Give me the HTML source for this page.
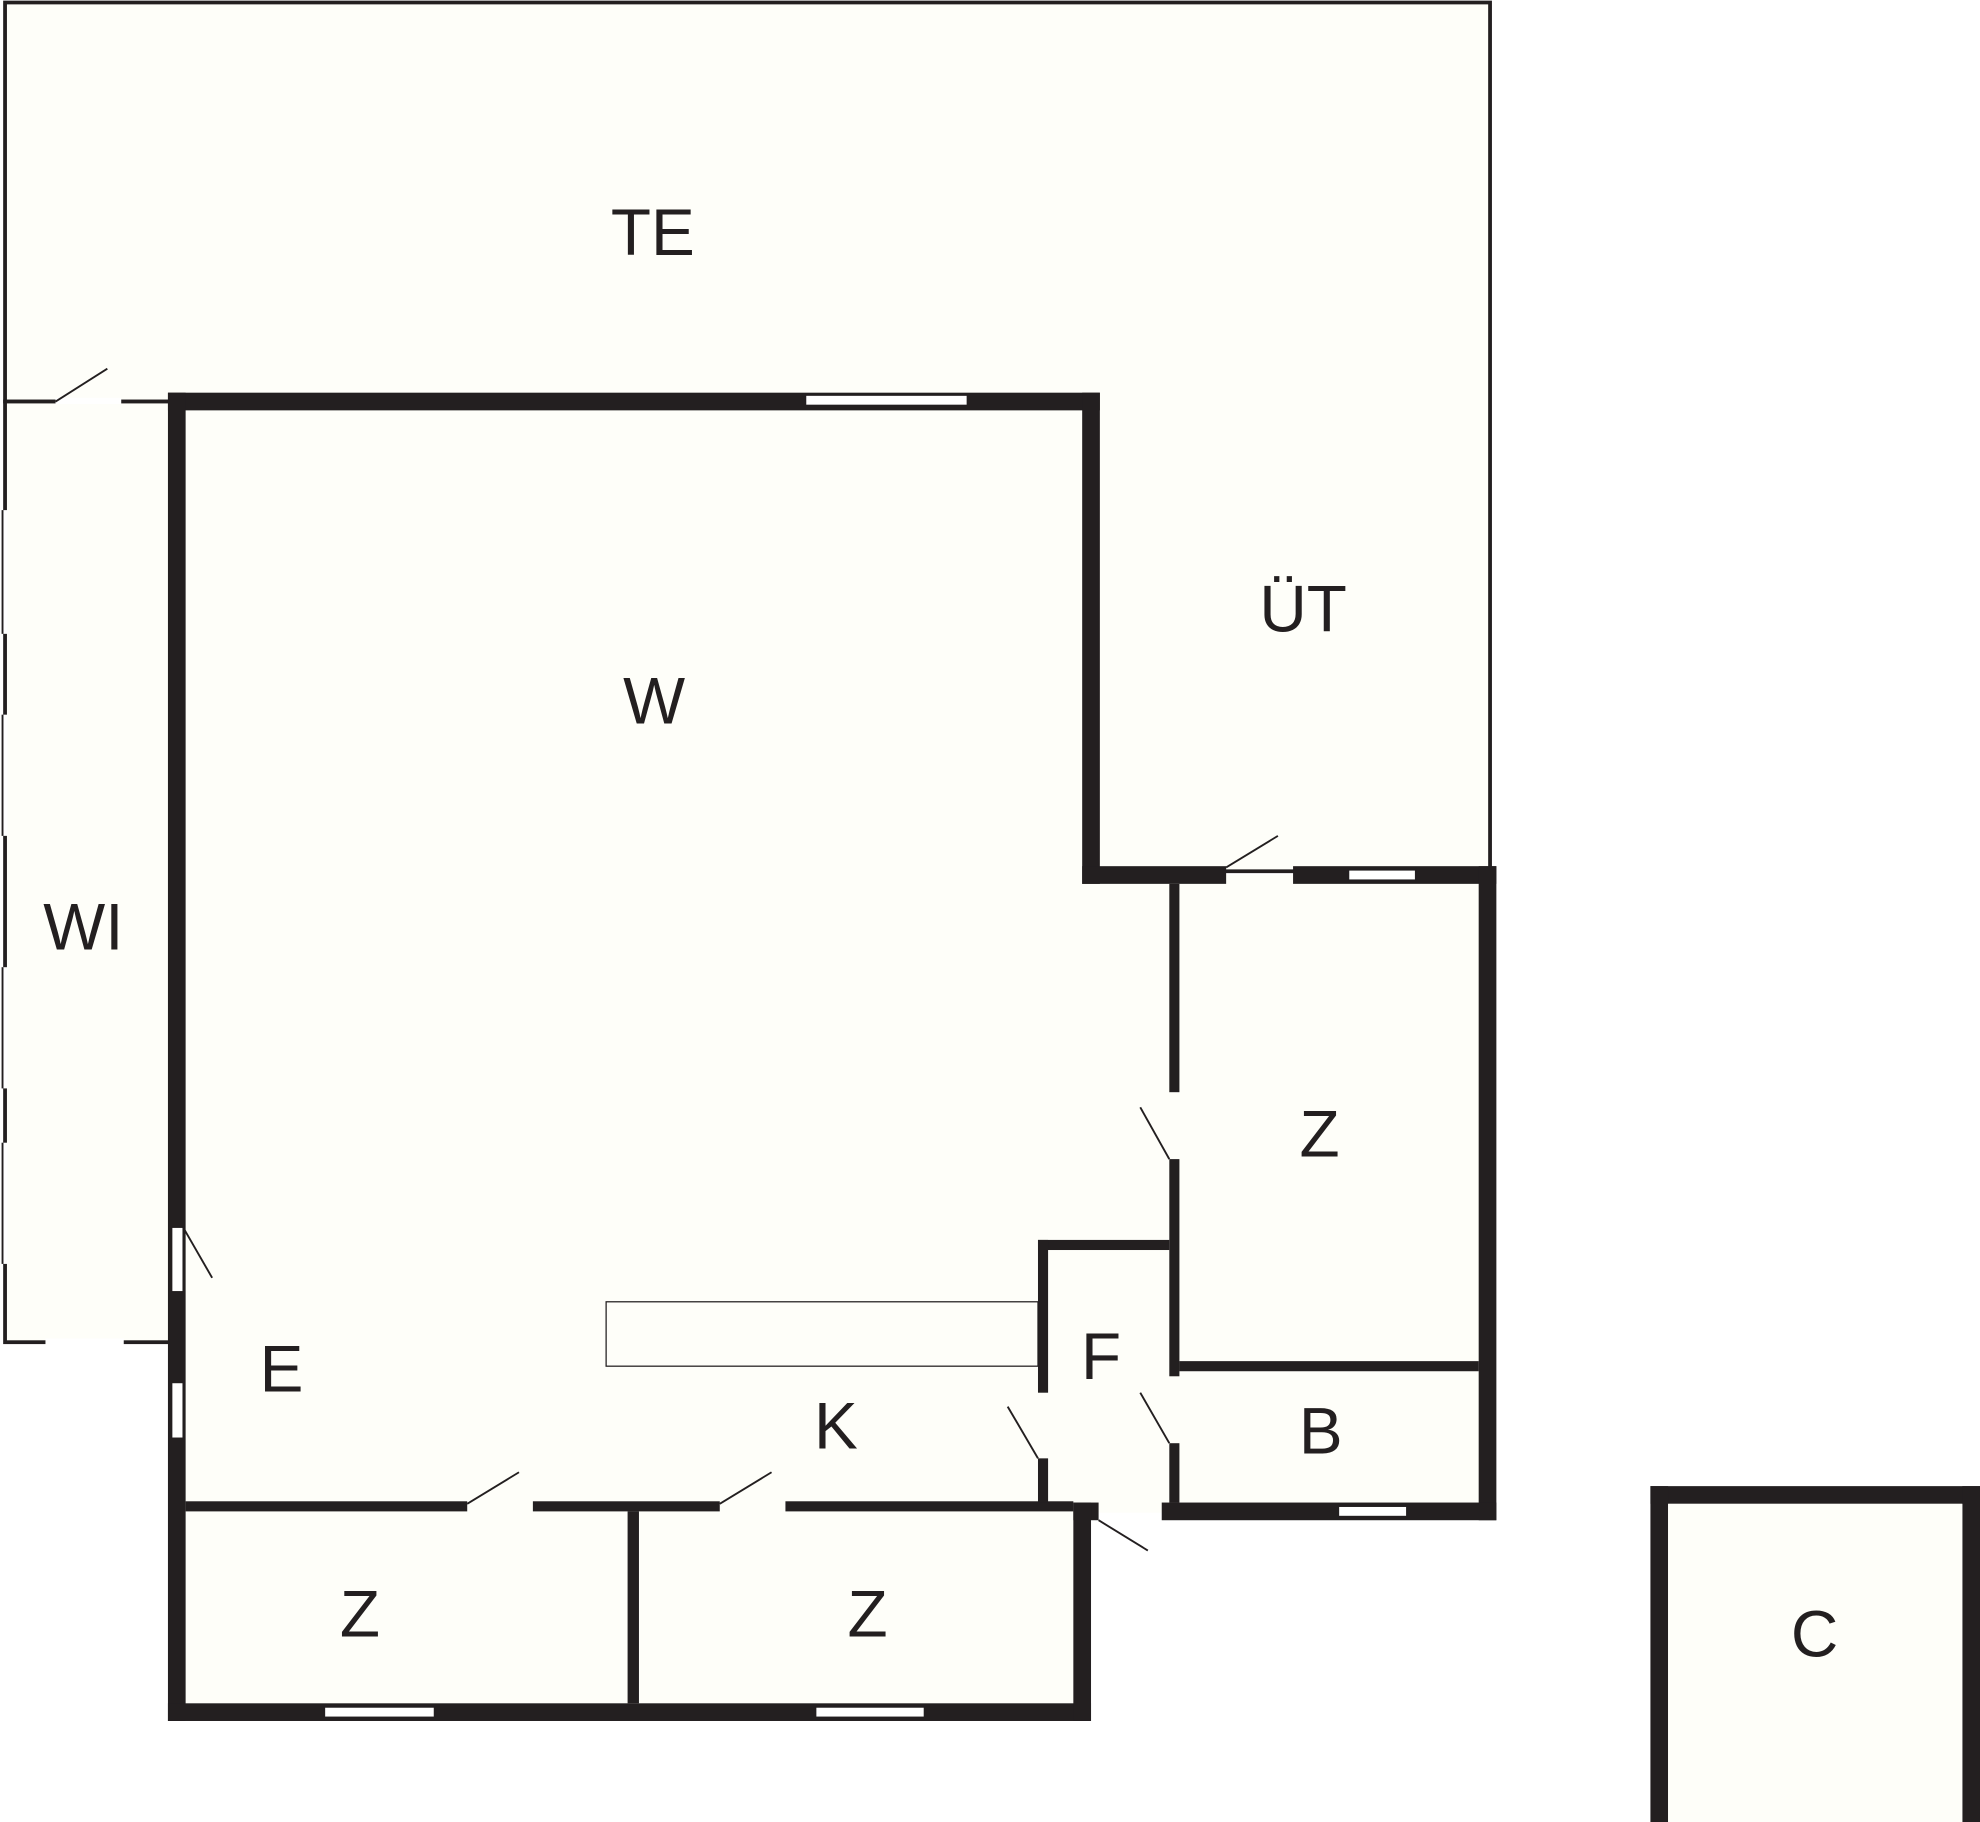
<!DOCTYPE html>
<html><head><style>
html,body{margin:0;padding:0;background:#fff;}
svg{display:block;}
text{font-family:"Liberation Sans",sans-serif;font-size:52px;fill:#231f20;text-anchor:middle;}
</style></head><body>
<svg width="1980" height="1822" viewBox="0 0 1568 1443" preserveAspectRatio="none" xmlns="http://www.w3.org/2000/svg">
<rect width="1568" height="1443" fill="#fff"/>
<g fill="#fefef9" stroke="#231f20" stroke-width="3">
<polygon points="4,2 1180,2 1180,690 864,690 864,318 4,318"/>
<rect x="4" y="318" width="132" height="745"/>
</g>
<rect x="140" y="318" width="724" height="1040" fill="#fefef9"/>
<rect x="864" y="693" width="314" height="505" fill="#fefef9"/>
<g fill="#231f20">
<!-- outer walls -->
<rect x="133" y="311" width="738" height="14"/>
<rect x="857" y="311" width="14" height="389"/>
<rect x="857" y="686" width="114" height="14"/>
<rect x="1024" y="686" width="161" height="14"/>
<rect x="1171" y="686" width="14" height="518"/>
<rect x="920" y="1190" width="265" height="14"/>
<rect x="850" y="1190" width="20" height="14"/>
<rect x="133" y="311" width="14" height="1052"/>
<rect x="133" y="1349" width="731" height="14"/>
<rect x="850" y="1190" width="14" height="173"/>
<!-- interior -->
<rect x="147" y="1189" width="223" height="8"/>
<rect x="422" y="1189" width="148" height="8"/>
<rect x="622" y="1189" width="228" height="8"/>
<rect x="497" y="1197" width="9" height="152"/>
<rect x="926" y="700" width="8" height="165"/>
<rect x="926" y="918" width="8" height="172"/>
<rect x="926" y="1143" width="8" height="47"/>
<rect x="822" y="982" width="104" height="8"/>
<rect x="822" y="982" width="8" height="121"/>
<rect x="822" y="1155" width="8" height="35"/>
<rect x="934" y="1078" width="237" height="8"/>
<!-- C -->
<rect x="1307" y="1177" width="261" height="14"/>
<rect x="1307" y="1177" width="14" height="270"/>
<rect x="1554" y="1177" width="14" height="270"/>
</g>
<rect x="1321" y="1191" width="233" height="260" fill="#fefef9"/>
<!-- windows -->
<g fill="#fff" stroke="#231f20" stroke-width="1">
<rect x="638" y="313" width="128" height="8"/>
<rect x="1068" y="689" width="53" height="8"/>
<rect x="1060" y="1193" width="54" height="8"/>
<rect x="257" y="1352" width="87" height="8"/>
<rect x="646" y="1352" width="86" height="8"/>
<rect x="136" y="972" width="9" height="51"/>
<rect x="136" y="1095" width="9" height="44"/>
<rect x="480" y="1031" width="342" height="51" fill="#fefef9"/>
</g>
<!-- WI window gaps -->
<g fill="#fff"><rect x="2" y="404" width="4" height="98"/><rect x="2" y="566" width="4" height="96"/><rect x="2" y="766" width="4" height="96"/><rect x="2" y="905" width="4" height="96"/><rect x="36" y="1060" width="62" height="5"/><rect x="44" y="315" width="52" height="5"/></g>
<g stroke="#231f20" stroke-width="1.5">
<line x1="2" y1="404" x2="2" y2="502"/><line x1="2" y1="566" x2="2" y2="662"/><line x1="2" y1="766" x2="2" y2="862"/><line x1="2" y1="905" x2="2" y2="1001"/>
<line x1="44" y1="318" x2="85" y2="292"/>
<line x1="971" y1="687" x2="1012" y2="662"/>
<line x1="926" y1="918" x2="903" y2="877"/>
<line x1="926" y1="1143" x2="903" y2="1103"/>
<line x1="822" y1="1155" x2="798" y2="1114"/>
<line x1="870" y1="1204" x2="909" y2="1228"/>
<line x1="370" y1="1191" x2="411" y2="1166"/>
<line x1="570" y1="1191" x2="611" y2="1166"/>
<line x1="145" y1="972" x2="168" y2="1012"/>
</g>
<text x="517" y="202">TE</text>
<text x="518" y="573">W</text>
<text x="1032" y="500">ÜT</text>
<text x="66" y="752">WI</text>
<text x="1045" y="916">Z</text>
<text x="872" y="1092">F</text>
<text x="1046" y="1151">B</text>
<text x="223" y="1102">E</text>
<text x="662" y="1147">K</text>
<text x="285" y="1296">Z</text>
<text x="687" y="1296">Z</text>
<text x="1437" y="1312">C</text>
</svg>
</body></html>
